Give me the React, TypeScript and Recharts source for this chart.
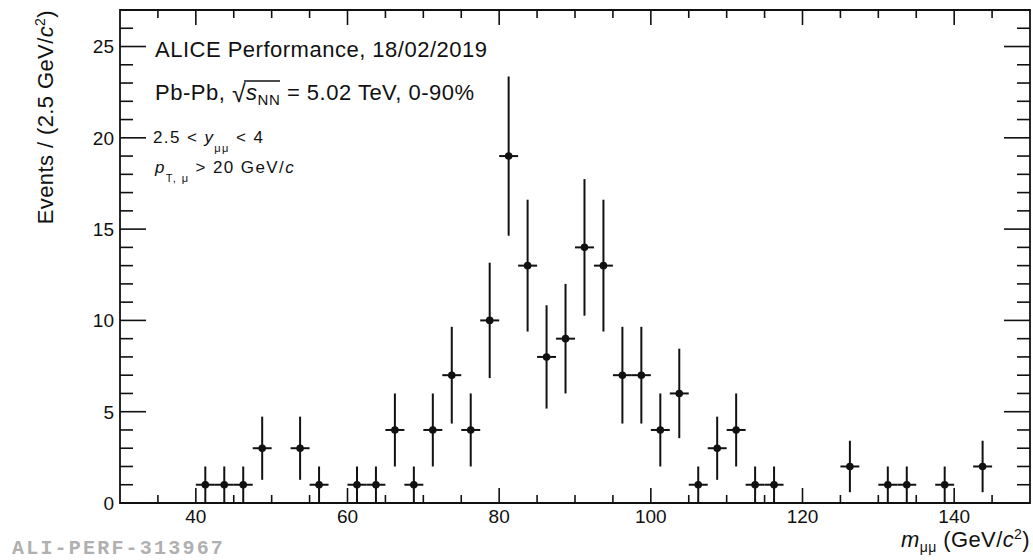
import React from 'react';
import { ComposedChart, ErrorBar, ReferenceArea, Scatter, XAxis, YAxis } from 'recharts';

// Dimuon invariant mass, 2.5 GeV bins (only filled bins are listed)
const massBins = [
    41.25, 43.75, 46.25, 48.75, 53.75, 56.25, 61.25, 63.75, 66.25, 68.75, 71.25, 73.75,
    76.25, 78.75, 81.25, 83.75, 86.25, 88.75, 91.25, 93.75, 96.25, 98.75, 101.25, 103.75,
    106.25, 108.75, 111.25, 113.75, 116.25, 126.25, 131.25, 133.75, 138.75, 143.75,
];
const eventCounts = [
    1, 1, 1, 3, 3, 1, 1, 1, 4, 1, 4, 7,
    4, 10, 19, 13, 8, 9, 14, 13, 7, 7, 4, 6,
    1, 3, 4, 1, 1, 2, 1, 1, 1, 2,
];
const countErrors = [
    1, 1, 1, 1.73, 1.73, 1, 1, 1, 2, 1, 2, 2.65,
    2, 3.16, 4.36, 3.61, 2.83, 3, 3.74, 3.61, 2.65, 2.65, 2, 2.45,
    1, 1.73, 2, 1, 1, 1.41, 1, 1, 1, 1.41,
];
const binHalfWidth = 1.25;

const xDomain = [30, 150];
const yDomain = [0, 27];
const xTicks = [35, 40, 45, 50, 55, 60, 65, 70, 75, 80, 85, 90, 95, 100, 105, 110, 115, 120, 125, 130, 135, 140, 145];
const xLabelTicks = [40, 60, 80, 100, 120, 140];
const yTicks = [0, 1, 2, 3, 4, 5, 6, 7, 8, 9, 10, 11, 12, 13, 14, 15, 16, 17, 18, 19, 20, 21, 22, 23, 24, 25, 26];
const yLabelTicks = [0, 5, 10, 15, 20, 25];

const WIDTH = 1033;
const HEIGHT = 560;
const MARGIN = { top: 10, right: 3, bottom: 0, left: 0 };
const Y_AXIS_W = 120;
const X_AXIS_H = 57;
const PLOT_W = WIDTH - MARGIN.left - MARGIN.right - Y_AXIS_W;
const PLOT_H = HEIGHT - MARGIN.top - MARGIN.bottom - X_AXIS_H;

const FONT = '"Liberation Sans", Arial, Helvetica, sans-serif';
const INK = '#111';

const data = massBins.map((m, i) => ({
    m,
    n: eventCounts[i],
    ey: countErrors[i],
    ex: binHalfWidth,
}));

// ROOT-style ticks: drawn inside the frame on both bottom and top
const XTick = (props: any) => {
    const { x, y, payload } = props;
    const major = xLabelTicks.includes(payload.value);
    const len = major ? 15 : 8;
    return (
        <g>
            <line x1={x} x2={x} y1={y} y2={y - len} stroke={INK} strokeWidth={1.6} />
            <line x1={x} x2={x} y1={y - PLOT_H} y2={y - PLOT_H + len} stroke={INK} strokeWidth={1.6} />
            {major && (
                <text x={x} y={y + 20} textAnchor="middle" fontFamily={FONT} fontSize={19} fill={INK}>
                    {payload.value}
                </text>
            )}
        </g>
    );
};

// same for the left and right sides
const YTick = (props: any) => {
    const { x, y, payload } = props;
    const major = yLabelTicks.includes(payload.value);
    const len = major ? 26 : 13;
    return (
        <g>
            <line x1={x} x2={x + len} y1={y} y2={y} stroke={INK} strokeWidth={1.6} />
            <line x1={x + PLOT_W - len} x2={x + PLOT_W} y1={y} y2={y} stroke={INK} strokeWidth={1.6} />
            {major && (
                <text x={x - 6} y={y} dy="0.36em" textAnchor="end" fontFamily={FONT} fontSize={19} fill={INK}>
                    {payload.value}
                </text>
            )}
        </g>
    );
};

const Marker = (props: any) => <circle cx={props.cx} cy={props.cy} r={3.8} fill={INK} />;

const Annotations = () => (
    <svg
        width={WIDTH}
        height={HEIGHT}
        style={{ position: 'absolute', left: 0, top: 0, pointerEvents: 'none' }}
        fontFamily={FONT}
        fill={INK}
    >
        <text x={155} y={57} fontSize={22} letterSpacing={0.5}>ALICE Performance, 18/02/2019</text>
        <text x={155} y={100} fontSize={22} letterSpacing={0.5}>
            Pb-Pb, <tspan fontSize={25} dy={2}>√</tspan>
            <tspan fontStyle="italic" dy={-2}>s</tspan>
            <tspan dy={5} fontSize={15}>NN</tspan>
            <tspan dy={-5}> = 5.02 TeV, 0-90%</tspan>
        </text>
        <line x1={244} x2={280} y1={81} y2={81} stroke={INK} strokeWidth={1.4} />
        <text x={153} y={143} fontSize={17} letterSpacing={1.4}>
            2.5 &lt; <tspan fontStyle="italic">y</tspan>
            <tspan dy={9} fontSize={11}>μμ</tspan>
            <tspan dy={-9}> &lt; 4</tspan>
        </text>
        <text x={155} y={173} fontSize={17} letterSpacing={1.4}>
            <tspan fontStyle="italic">p</tspan>
            <tspan dy={9} fontSize={11}>T, μ</tspan>
            <tspan dy={-9}> &gt; 20 GeV/</tspan>
            <tspan fontStyle="italic">c</tspan>
        </text>
        <text x={1030} y={547} fontSize={22} letterSpacing={0.4} textAnchor="end">
            <tspan fontStyle="italic">m</tspan>
            <tspan dy={5} fontSize={14}>μμ</tspan>
            <tspan dy={-5}> (GeV/</tspan>
            <tspan fontStyle="italic">c</tspan>
            <tspan dy={-8} fontSize={14}>2</tspan>
            <tspan dy={8}>)</tspan>
        </text>
        <text x={53} y={10} fontSize={22} letterSpacing={0.4} textAnchor="end" transform="rotate(-90 53 10)">
            Events / (2.5 GeV/<tspan fontStyle="italic">c</tspan>
            <tspan dy={-8} fontSize={14}>2</tspan>
            <tspan dy={8}>)</tspan>
        </text>
        <text
            x={12}
            y={554}
            fontSize={20}
            fontFamily='"Liberation Mono", "DejaVu Sans Mono", monospace'
            fontWeight="bold"
            letterSpacing={2.2}
            fill="#b0b0b0"
        >
            ALI-PERF-313967
        </text>
    </svg>
);

export default function App() {
    return (
        <div style={{ position: 'absolute', left: 0, top: 0, width: WIDTH, height: HEIGHT, background: '#fff' }}>
            <ComposedChart width={WIDTH} height={HEIGHT} data={data} margin={MARGIN}>
                <XAxis
                    dataKey="m"
                    type="number"
                    domain={xDomain}
                    ticks={xTicks}
                    interval={0}
                    height={X_AXIS_H}
                    tickSize={0}
                    tickMargin={0}
                    tickLine={false}
                    axisLine={false}
                    tick={<XTick />}
                    allowDataOverflow
                />
                <YAxis
                    type="number"
                    domain={yDomain}
                    ticks={yTicks}
                    interval={0}
                    width={Y_AXIS_W}
                    tickSize={0}
                    tickMargin={0}
                    tickLine={false}
                    axisLine={false}
                    tick={<YTick />}
                    allowDataOverflow
                />
                <ReferenceArea
                    x1={xDomain[0]}
                    x2={xDomain[1]}
                    y1={yDomain[0]}
                    y2={yDomain[1]}
                    fill="none"
                    stroke={INK}
                    strokeWidth={1.8}
                    fillOpacity={0}
                />
                <Scatter dataKey="n" shape={<Marker />} isAnimationActive={false}>
                    <ErrorBar dataKey="ey" direction="y" width={0} stroke={INK} strokeWidth={2} />
                    <ErrorBar dataKey="ex" direction="x" width={0} stroke={INK} strokeWidth={2} />
                </Scatter>
            </ComposedChart>
            <Annotations />
        </div>
    );
}
